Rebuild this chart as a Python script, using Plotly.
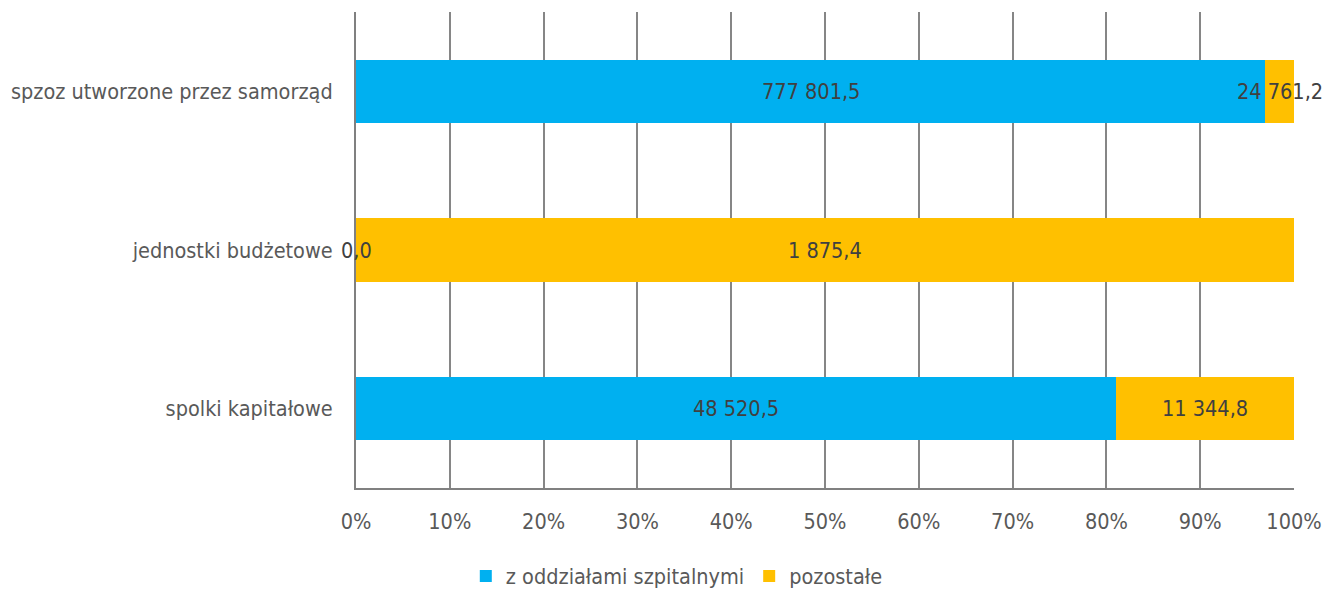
import plotly.graph_objects as go

cat_labels = ["spolki kapitałowe", "jednostki budżetowe", "spzoz utworzone przez samorząd"]
series_names = ["z oddziałami szpitalnymi", "pozostałe"]
hosp = [48520.5, 0.0, 777801.5]
other = [11344.8, 1875.4, 24761.2]
tick_vals = [0, 10, 20, 30, 40, 50, 60, 70, 80, 90, 100]
tick_text = [f"{v}%" for v in tick_vals]

colors = ["#00B0F0", "#FFC000"]
FONT = "Liberation Sans Narrow, Arial Narrow, DejaVu Sans Condensed, sans-serif"
FS = 21.5


def fmt(v):
    return f"{v:,.1f}".replace(",", " ").replace(".", ",")


fig = go.Figure()
for name, vals, col in zip(series_names, [hosp, other], colors):
    fig.add_trace(go.Bar(
        y=cat_labels, x=vals, name=name, orientation="h",
        marker=dict(color=col, line=dict(width=0)),
    ))

annotations = []
for i, cat in enumerate(cat_labels):
    total = hosp[i] + other[i]
    p1 = hosp[i] / total * 100
    p2 = other[i] / total * 100
    for start, width, val in [(0, p1, hosp[i]), (p1, p2, other[i])]:
        annotations.append(dict(
            x=start + width / 2, y=cat, xref="x", yref="y",
            text=fmt(val), showarrow=False,
            font=dict(family=FONT, size=FS, color="#404040"),
            xanchor="center", yanchor="middle",
        ))

fig.update_layout(
    barmode="stack",
    barnorm="percent",
    bargap=0.6,
    width=1337, height=590,
    margin=dict(l=356, r=43, t=12, b=102, autoexpand=False),
    paper_bgcolor="white", plot_bgcolor="white",
    font=dict(family=FONT, size=FS, color="#595959"),
    annotations=annotations,
    legend=dict(
        orientation="h", x=0.342, xanchor="center", y=-0.185, yanchor="middle",
        font=dict(family=FONT, size=FS, color="#595959"),
        traceorder="normal", itemwidth=30,
    ),
    showlegend=True,
)
fig.update_xaxes(
    range=[0, 100], tickvals=tick_vals, ticktext=tick_text,
    showgrid=True, gridcolor="#868686", gridwidth=1.5,
    showline=True, linecolor="#808080", linewidth=2,
    zeroline=False, ticks="", ticklabelstandoff=13, automargin=False,
    tickfont=dict(family=FONT, size=FS, color="#595959"),
    fixedrange=True,
)
fig.update_yaxes(
    categoryorder="array", categoryarray=cat_labels,
    showgrid=False, showline=True, linecolor="#808080", linewidth=2,
    ticks="", ticklabelstandoff=17, automargin=False,
    tickfont=dict(family=FONT, size=FS, color="#595959"),
    fixedrange=True,
)

fig.write_html(
    "out.html",
    config={"displayModeBar": False},
    post_script="document.body.style.margin='0';document.body.style.overflow='hidden';",
)
